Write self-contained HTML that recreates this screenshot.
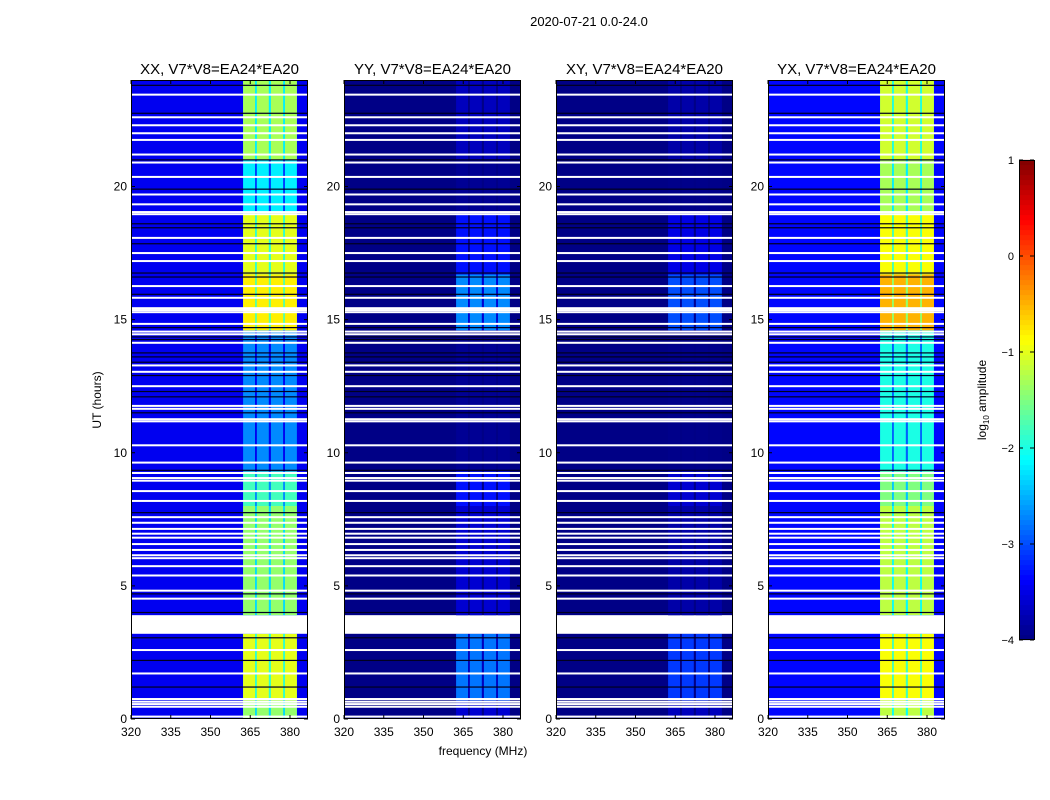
<!DOCTYPE html>
<html><head><meta charset="utf-8">
<style>
body{margin:0;background:#fff;}
#wrap{position:relative;width:1050px;height:800px;overflow:hidden;font-family:"Liberation Sans",sans-serif;}
svg{position:absolute;left:0;top:0;}
</style></head>
<body>
<div id="wrap">
<svg id="chart" width="1050" height="800"></svg>
</div>
<script>
// ---- data ----
const panelTitles = ["XX, V7*V8=EA24*EA20","YY, V7*V8=EA24*EA20","XY, V7*V8=EA24*EA20","YX, V7*V8=EA24*EA20"];
const segStart = [0, 0.7, 3.2, 3.9, 8.0, 9.3, 12.0, 14.6, 16.7, 19.0, 21.0];
const segEnd   = [0.7, 3.2, 3.9, 8.0, 9.3, 12.0, 14.6, 16.7, 19.0, 21.0, 24.0];
const bandXX = [-1.4, -1.0, null, -1.4, -1.8, -2.7, -2.7, -0.8, -1.0, -2.2, -1.3];
const bandYY = [-3.6, -2.8, null, -3.6, -3.3, -3.9, -3.9, -2.7, -3.3, -3.9, -3.7];
const bandXY = [-3.7, -3.1, null, -3.8, -3.6, -3.95, -3.95, -3.0, -3.5, -3.95, -3.8];
const bandYX = [-1.2, -0.9, null, -1.2, -1.5, -2.0, -2.0, -0.5, -0.9, -1.3, -1.1];
const background = [-3.45, -3.97, -3.97, -3.35];
const subStart = [362.3, 367.5, 372.8, 378.1];
const subEnd   = [366.8, 372.0, 377.4, 382.6];
const whiteRows = [0.09,0.46,0.56,0.65,0.75,1.71,2.59,4.52,4.82,5.39,5.74,6.04,6.15,6.35,6.57,6.81,6.96,7.14,7.37,7.58,8.19,8.56,8.95,9.05,9.24,9.63,10.28,11.18,11.26,11.65,11.76,12.5,13.04,13.28,14.13,14.45,14.55,14.84,15.28,15.36,15.43,15.82,16.26,17.2,17.5,18.07,18.96,19.04,19.33,19.7,20.36,20.9,21.2,21.75,22.0,22.3,22.6,23.45];
const darkRows = [1.2,2.2,3.05,4.0,4.7,7.75,9.34,11.5,12.1,12.3,12.9,13.4,13.6,13.75,14.25,14.35,14.7,15.95,16.6,16.75,17.85,18.45,18.6,19.9,21.0,22.75,23.8];
const xTicks = [320,335,350,365,380];
const yTicks = [0,5,10,15,20];
const cbTicks = [1,0,-1,-2,-3,-4];
const bands = [bandXX, bandYY, bandXY, bandYX];

// ---- geometry ----
const lefts=[131,344,556,768], PW=177, TOP=80, BOT=719;
const xs=(p,f)=>lefts[p]+(f-320)*2.65;
const ys=h=>BOT-h*(639/24);
const cbY=v=>640-(v+4)*96;

function jet(v){
  let t=Math.max(0,Math.min(1,(v+4)/5));
  const c=x=>Math.round(255*Math.max(0,Math.min(1,x)));
  return `rgb(${c(1.5-Math.abs(4*t-3))},${c(1.5-Math.abs(4*t-2))},${c(1.5-Math.abs(4*t-1))})`;
}
const svg=document.getElementById('chart');
const NS='http://www.w3.org/2000/svg';
function mk(tag,attrs,parent){const e=document.createElementNS(NS,tag);for(const k in attrs)e.setAttribute(k,attrs[k]);(parent||svg).appendChild(e);return e;}

let t=mk('text',{x:589,y:26,'font-size':13,'text-anchor':'middle',fill:'#000'});
t.textContent='2020-07-21 0.0-24.0';



for(let p=0;p<4;p++){
  const g=mk('g',{});
  
  
  const bg=mk('rect',{x:lefts[p],y:TOP,width:PW,height:BOT-TOP,fill:jet(background[p])},g);
  
  
  for(let s=0;s<segStart.length;s++){
    const v=bands[p][s];
    const y1=ys(segEnd[s]), y2=ys(segStart[s]);
    if(v===null){
      const w=mk('rect',{x:lefts[p],y:y1,width:PW,height:y2-y1,fill:'#fff'},g);
      
      
      continue;
    }
    const halo=mk('rect',{x:xs(p,subStart[0]),y:y1,width:xs(p,subEnd[3])-xs(p,subStart[0]),height:y2-y1,fill:jet(Math.max(background[p],v-0.9))},g);
    
    
    for(let b=0;b<subStart.length;b++){
      const r=mk('rect',{x:xs(p,subStart[b]),y:y1,width:xs(p,subEnd[b])-xs(p,subStart[b]),height:y2-y1,fill:jet(v)},g);
      
      
    }
  }
  for(const h of darkRows){
    const r=mk('rect',{x:lefts[p],y:ys(h)-0.6,width:PW,height:1.2,fill:'#000020'},g);
    
    
  }
  for(const h of whiteRows){
    const r=mk('rect',{x:lefts[p],y:ys(h)-1,width:PW,height:2,fill:'#fff'},g);
    
    
  }
  const fr=mk('rect',{x:lefts[p]+0.5,y:TOP+0.5,width:PW-1,height:BOT-TOP-1,fill:'none',stroke:'#000','stroke-width':1},g);
  
  
  const tt=mk('text',{x:lefts[p]+PW/2,y:74,'font-size':15,'text-anchor':'middle',fill:'#000'},g);
  tt.textContent=panelTitles[p];
  
  
  for(const f of xTicks){
    const x=xs(p,f);
    mk('line',{x1:x,y1:BOT,x2:x,y2:BOT-4,stroke:'#000'},g);
    mk('line',{x1:x,y1:TOP,x2:x,y2:TOP+4,stroke:'#000'},g);
    const l=mk('text',{x:x,y:BOT+17,'font-size':12,'text-anchor':'middle',fill:'#000'},g);
    l.textContent=f;
    
    
  }
  for(const h of yTicks){
    const y=ys(h);
    mk('line',{x1:lefts[p],y1:y,x2:lefts[p]+4,y2:y,stroke:'#000'},g);
    mk('line',{x1:lefts[p]+PW,y1:y,x2:lefts[p]+PW-4,y2:y,stroke:'#000'},g);
    const l=mk('text',{x:lefts[p]-4,y:y+4,'font-size':12,'text-anchor':'end',fill:'#000'},g);
    l.textContent=h;
    
    
  }
}
let yl=mk('text',{x:0,y:0,'font-size':12,'text-anchor':'middle',transform:'translate(101,400) rotate(-90)',fill:'#000'});
yl.textContent='UT (hours)';


let xl=mk('text',{x:483,y:755,'font-size':12,'text-anchor':'middle',fill:'#000'});
xl.textContent='frequency (MHz)';



const cb=mk('g',{});


for(let i=0;i<96;i++){
  const v=-4+5*(i+0.5)/96;
  mk('rect',{x:1019,y:cbY(v)-2.6,width:15,height:5.2,fill:jet(v)},cb);
}
mk('rect',{x:1019.5,y:160.5,width:15,height:479,fill:'none',stroke:'#000'},cb);
for(const v of cbTicks){
  const y=cbY(v);
  mk('line',{x1:1019,y1:y,x2:1023,y2:y,stroke:'#000'},cb);
  mk('line',{x1:1034,y1:y,x2:1030,y2:y,stroke:'#000'},cb);
  const l=mk('text',{x:1014,y:y+4,'font-size':11,'text-anchor':'end',fill:'#000'},cb);
  l.textContent=v<0?'\u2212'+(-v):String(v);
  
  
}
const cl=mk('text',{x:0,y:0,'font-size':12,'text-anchor':'middle',transform:'translate(986,400) rotate(-90)',fill:'#000'},cb);
cl.innerHTML='log<tspan font-size="8" dy="3">10</tspan><tspan dy="-3"> amplitude</tspan>';


</script>
</body></html>
